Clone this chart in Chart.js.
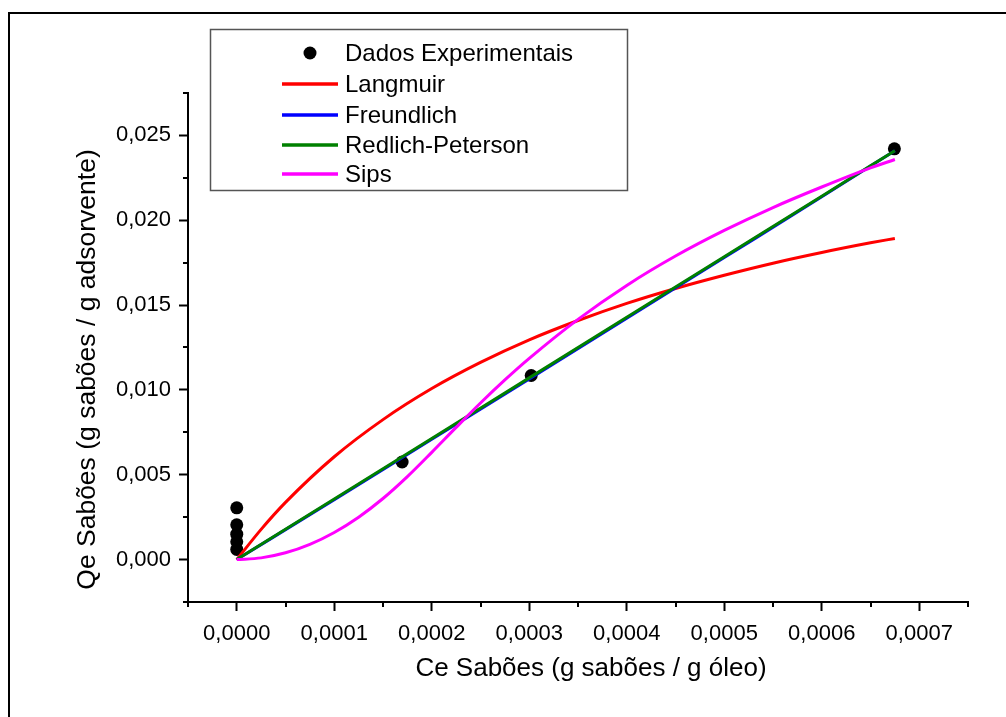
<!DOCTYPE html>
<html>
<head>
<meta charset="utf-8">
<script src="https://cdn.jsdelivr.net/npm/chart.js@4/dist/chart.umd.min.js"></script>
<style>
html,body{margin:0;padding:0;background:#fff;}
#wrap{width:1006px;height:717px;position:relative;overflow:hidden;}
canvas{display:block;}
</style>
</head>
<body>
<div id="wrap"><canvas id="c" width="1006" height="717"></canvas></div>
<script>
// ---- Data ----
const ceExp = [0, 0, 0, 0, 0, 0.0001696, 0.000302, 0.0006745];
const qeExp = [0.00305, 0.00205, 0.0015, 0.00105, 0.0006, 0.00575, 0.01085, 0.02421];

const ceLangmuir = [0, 0.000025, 0.00005, 0.0001, 0.00015, 0.0002, 0.00025, 0.0003, 0.00035, 0.0004, 0.00045, 0.0005, 0.00055, 0.0006, 0.00065, 0.000675];
const qeLangmuir = [0, 0.00178, 0.00337, 0.00606, 0.00825, 0.01008, 0.01162, 0.01295, 0.01409, 0.0151, 0.01598, 0.01676, 0.01747, 0.0181, 0.01867, 0.01893];

const ceLinear = [0, 0.0001, 0.0002, 0.0003, 0.0004, 0.0005, 0.0006, 0.000675];
const qeFreundlich = [0, 0.00353, 0.00709, 0.01065, 0.01422, 0.0178, 0.02138, 0.0241];
const qeRedlich = [0, 0.00357, 0.00714, 0.01071, 0.01428, 0.01785, 0.02142, 0.0241];

const ceSips = [0, 0.000025, 0.00005, 0.000075, 0.0001, 0.000125, 0.00015, 0.000175, 0.0002, 0.000225, 0.00025, 0.000275, 0.0003, 0.00035, 0.0004, 0.00045, 0.0005, 0.00055, 0.0006, 0.00065, 0.000675];
const qeSips = [0, 0.0001, 0.0004, 0.0009, 0.0016, 0.0025, 0.0036, 0.00489, 0.00632, 0.00779, 0.00923, 0.01059, 0.01186, 0.01416, 0.01616, 0.01789, 0.0194, 0.02075, 0.02196, 0.02309, 0.02358];

const seriesLabels = ['Dados Experimentais', 'Langmuir', 'Freundlich', 'Redlich-Peterson', 'Sips'];
const xTitle = 'Ce Sabões (g sabões / g óleo)';
const yTitle = 'Qe Sabões (g sabões / g adsorvente)';
const xRange = [-0.00005, 0.00075];
const yRange = [-0.0025, 0.0275];
const xMinorStep = 0.00005;
const yMinorStep = 0.0025;

// ---- helpers ----
const FONT = "'Liberation Sans', Arial, Helvetica, sans-serif";
const pts = (xs, ys) => xs.map((x, i) => ({x: x, y: ys[i]}));
const isMajor = (v, step) => Math.round(v / step) % 2 === 0;
const fmt = (v, d) => { if (Math.abs(v) < 1e-12) v = 0; return v.toFixed(d).replace('.', ','); };

const framePlugin = {
  id: 'frame',
  beforeDraw(chart) {
    const c = chart.ctx;
    c.save();
    c.fillStyle = '#fff';
    c.fillRect(0, 0, chart.width, chart.height);
    c.strokeStyle = '#000';
    c.lineWidth = 2;
    c.strokeRect(9, 13, 1200, 900);
    c.restore();
  }
};

// minor ticks + axis titles (positioned as in the reference)
const axisDecorPlugin = {
  id: 'axisDecor',
  afterDraw(chart) {
    const c = chart.ctx;
    c.save();
    c.strokeStyle = '#000';
    c.lineWidth = 2;
    const xs = chart.scales.x, ys = chart.scales.y;
    xs.ticks.forEach(t => {
      if (!isMajor(t.value, xMinorStep)) {
        const p = Math.round(xs.getPixelForValue(t.value));
        c.beginPath(); c.moveTo(p, xs.top); c.lineTo(p, xs.top + 5); c.stroke();
      }
    });
    ys.ticks.forEach(t => {
      if (!isMajor(t.value, yMinorStep)) {
        const p = Math.round(ys.getPixelForValue(t.value));
        c.beginPath(); c.moveTo(ys.right - 5, p); c.lineTo(ys.right, p); c.stroke();
      }
    });
    c.fillStyle = '#000';
    c.font = '26px ' + FONT;
    c.textAlign = 'center';
    c.textBaseline = 'middle';
    const area = chart.chartArea;
    c.fillText(xTitle, (area.left + area.right) / 2 + 13, 669);
    c.translate(88, (area.top + area.bottom) / 2 + 22);
    c.rotate(-Math.PI / 2);
    c.font = '26.5px ' + FONT;
    c.fillText(yTitle, 0, 0);
    c.restore();
  }
};

const legendPlugin = {
  id: 'boxLegend',
  afterDraw(chart) {
    const c = chart.ctx;
    c.save();
    c.fillStyle = '#fff';
    c.strokeStyle = '#555';
    c.lineWidth = 1.5;
    c.fillRect(210, 29, 418, 162);
    c.strokeRect(210.5, 29.5, 417, 161);
    c.font = '24px ' + FONT;
    c.textBaseline = 'middle';
    c.textAlign = 'left';
    const rows = [53, 84, 115, 145, 174];
    chart.data.datasets.forEach((ds, i) => {
      const y = rows[i];
      if (ds.showLine === false) {
        c.fillStyle = ds.backgroundColor;
        c.beginPath(); c.arc(310, y, 6.5, 0, Math.PI * 2); c.fill();
      } else {
        c.strokeStyle = ds.borderColor;
        c.lineWidth = 3.5;
        c.beginPath(); c.moveTo(282, y); c.lineTo(338, y); c.stroke();
      }
      c.fillStyle = '#000';
      c.fillText(ds.label, 345, y + 1);
    });
    c.restore();
  }
};

const lineDs = (label, xs, ys, color, order) => ({
  label: label, data: pts(xs, ys), showLine: true, borderColor: color, backgroundColor: color,
  borderWidth: 3, pointRadius: 0, cubicInterpolationMode: 'monotone', order: order, clip: false
});

new Chart(document.getElementById('c'), {
  type: 'scatter',
  data: {
    datasets: [
      { label: seriesLabels[0], data: pts(ceExp, qeExp), showLine: false, pointRadius: 6.5,
        backgroundColor: '#000', borderColor: '#000', borderWidth: 0, order: 10 },
      lineDs(seriesLabels[1], ceLangmuir, qeLangmuir, '#ff0000', 4),
      lineDs(seriesLabels[2], ceLinear, qeFreundlich, '#0000ff', 3),
      lineDs(seriesLabels[3], ceLinear, qeRedlich, '#008000', 2),
      lineDs(seriesLabels[4], ceSips, qeSips, '#ff00ff', 1)
    ]
  },
  options: {
    responsive: false,
    animation: false,
    devicePixelRatio: 1,
    events: [],
    layout: { padding: { top: 93, right: 38, left: 0, bottom: 0 } },
    plugins: { legend: { display: false }, tooltip: { enabled: false } },
    scales: {
      x: {
        type: 'linear', min: xRange[0], max: xRange[1],
        afterFit(s) { s.height = 115; },
        ticks: {
          stepSize: xMinorStep, autoSkip: false, maxRotation: 0, minRotation: 0, padding: 10,
          color: '#000', font: { family: FONT, size: 22 },
          callback: v => isMajor(v, xMinorStep) ? fmt(v, 4) : ''
        },
        grid: {
          drawOnChartArea: false, drawTicks: true, tickLength: 9, tickWidth: 2,
          tickColor: ctx => (ctx.tick && isMajor(ctx.tick.value, xMinorStep)) ? '#000' : 'rgba(0,0,0,0)'
        },
        border: { display: true, color: '#000', width: 2 },
        title: { display: false, text: xTitle }
      },
      y: {
        type: 'linear', min: yRange[0], max: yRange[1],
        afterFit(s) { s.width = 188; },
        ticks: {
          stepSize: yMinorStep, autoSkip: false, padding: 8,
          color: '#000', font: { family: FONT, size: 22 },
          callback: v => isMajor(v, yMinorStep) ? fmt(v, 3) : ''
        },
        grid: {
          drawOnChartArea: false, drawTicks: true, tickLength: 9, tickWidth: 2,
          tickColor: ctx => (ctx.tick && isMajor(ctx.tick.value, yMinorStep)) ? '#000' : 'rgba(0,0,0,0)'
        },
        border: { display: true, color: '#000', width: 2 },
        title: { display: false, text: yTitle }
      }
    }
  },
  plugins: [framePlugin, axisDecorPlugin, legendPlugin]
});
</script>
</body>
</html>
